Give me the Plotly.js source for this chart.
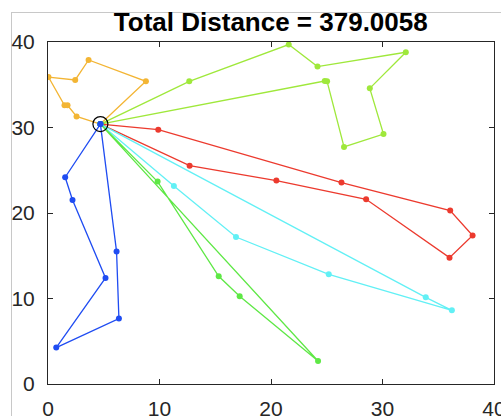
<!DOCTYPE html>
<html>
<head>
<meta charset="utf-8">
<script src="https://cdn.plot.ly/plotly-3.0.1.min.js"></script>
<style>
html,body{margin:0;padding:0;background:#fff;}
#wrap{position:relative;width:501px;height:416px;overflow:hidden;}
#plot{position:absolute;left:0;top:0;width:501px;height:416px;}
#frame{position:absolute;left:11px;top:12px;width:600px;height:600px;border-left:1px solid #c8c8c8;border-top:1px solid #c8c8c8;pointer-events:none;}
</style>
</head>
<body>
<div id="wrap"><div id="frame"></div><div id="plot"></div></div>
<script>
const titleText = "Total Distance = 379.0058";
const depot = [4.7, 30.4];

const orangeX = [4.7, 8.78, 3.64, 2.44, 0.04, 1.48, 1.75, 2.56, 4.7];
const orangeY = [30.4, 35.4, 37.9, 35.56, 35.9, 32.6, 32.6, 31.3, 30.4];

const limeX = [4.7, 12.67, 21.59, 24.17, 32.09, 28.86, 30.09, 26.55, 25.03, 24.82, 4.7];
const limeY = [30.4, 35.4, 39.7, 37.12, 38.8, 34.58, 29.24, 27.72, 35.4, 35.44, 30.4];

const redX = [4.7, 9.89, 26.32, 36.07, 38.08, 36.01, 28.53, 20.48, 12.70, 4.7];
const redY = [30.4, 29.75, 23.56, 20.28, 17.36, 14.78, 21.6, 23.79, 25.54, 30.4];

const cyanX = [4.7, 11.29, 16.86, 25.18, 36.22, 33.88, 4.7];
const cyanY = [30.4, 23.16, 17.19, 12.83, 8.62, 10.14, 30.4];

const greenX = [4.7, 9.83, 15.31, 17.19, 24.22, 4.7];
const greenY = [30.4, 23.67, 12.6, 10.26, 2.69, 30.4];

const blueX = [4.7, 1.54, 2.2, 5.16, 0.74, 6.36, 6.15, 4.7];
const blueY = [30.4, 24.18, 21.52, 12.4, 4.26, 7.65, 15.49, 30.4];

const tickVals = [0, 10, 20, 30, 40];

function route(x, y, color) {
  return {x: x, y: y, type: 'scatter', mode: 'lines+markers',
    line: {color: color, width: 1.3},
    marker: {color: color, size: 6},
    hoverinfo: 'none', showlegend: false};
}

const data = [
  route(orangeX, orangeY, '#f3b534'),
  route(limeX, limeY, '#9fe83b'),
  route(redX, redY, '#ec3a2e'),
  route(cyanX, cyanY, '#62f0f5'),
  route(greenX, greenY, '#5ee845'),
  route(blueX, blueY, '#1f4cf2'),
  {x: [depot[0]], y: [depot[1]], type: 'scatter', mode: 'markers',
   marker: {symbol: 'circle-open', size: 15, color: '#000', line: {width: 1.2, color: '#000'}},
   hoverinfo: 'none', showlegend: false}
];

const axisCommon = {
  range: [0, 40], tickvals: tickVals, ticktext: tickVals.map(String),
  showgrid: false, zeroline: false, showline: true, mirror: 'ticks',
  linecolor: '#262626', linewidth: 1, ticks: 'inside', ticklen: 5,
  tickcolor: '#262626', ticklabeloverflow: 'allow',
  tickfont: {family: 'Liberation Sans, Arial, sans-serif', size: 21, color: '#262626'}
};

const layout = {
  width: 501, height: 416,
  margin: {l: 48, r: 7, t: 42, b: 32},
  paper_bgcolor: 'rgba(0,0,0,0)', plot_bgcolor: '#fff',
  title: {text: '<b>' + titleText + '</b>', x: 0.5405, xanchor: 'center',
    y: 1 - 22/416, yanchor: 'middle', yref: 'container',
    font: {family: 'Liberation Sans, Arial, sans-serif', size: 26, color: '#000'}},
  xaxis: Object.assign({}, axisCommon, {ticklabelstandoff: 6}),
  yaxis: Object.assign({}, axisCommon, {ticklabelstandoff: 8})
};

Plotly.newPlot('plot', data, layout, {staticPlot: true, displayModeBar: false});
</script>
</body>
</html>
